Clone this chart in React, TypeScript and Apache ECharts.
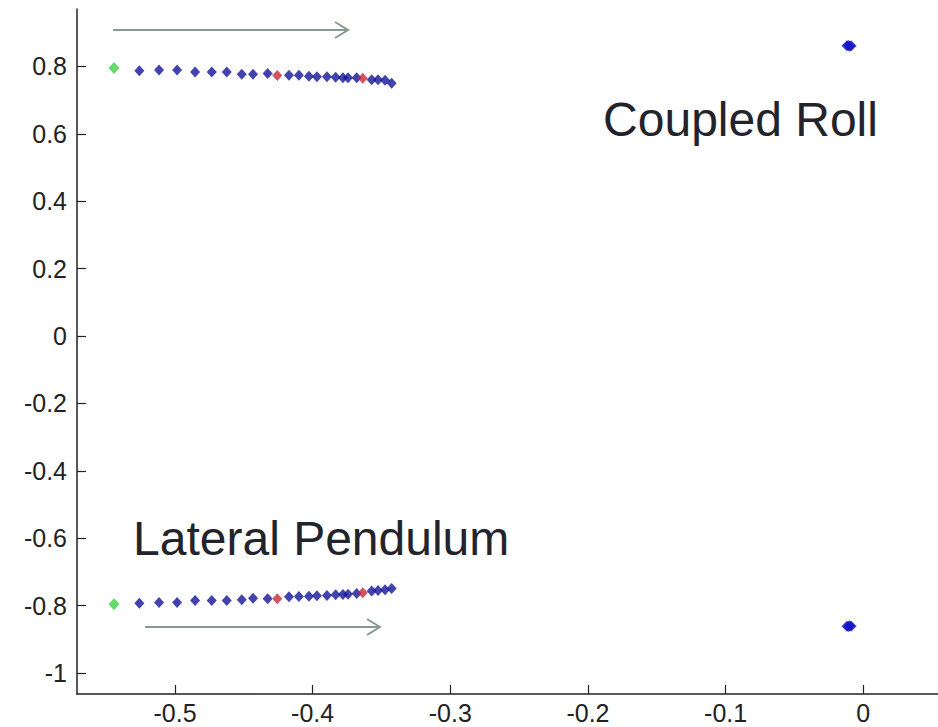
import React, { useEffect, useRef } from "react";
import * as echarts from "echarts";

// Root-locus style sweep: real parts shared by the conjugate pair
const realPart = [
  -0.5443, -0.5259, -0.5116, -0.4985, -0.4854, -0.4733, -0.4624, -0.4515, -0.4433, -0.4327,
  -0.4257, -0.4172, -0.41, -0.4027, -0.3969, -0.3896, -0.3833, -0.378, -0.3743, -0.368,
  -0.3636, -0.3571, -0.3525, -0.3474, -0.3426,
];
const imagUpper = [
  0.795, 0.787, 0.789, 0.789, 0.783, 0.783, 0.783, 0.777, 0.777, 0.779,
  0.773, 0.774, 0.774, 0.771, 0.769, 0.769, 0.768, 0.766, 0.766, 0.766,
  0.765, 0.76, 0.76, 0.759, 0.75,
];
const imagLower = [
  -0.796, -0.793, -0.791, -0.791, -0.785, -0.785, -0.785, -0.783, -0.778, -0.78,
  -0.78, -0.774, -0.773, -0.772, -0.771, -0.77, -0.768, -0.767, -0.766, -0.764,
  -0.762, -0.757, -0.755, -0.753, -0.749,
];
const startIndex = 0;
const highlightedIndices = [10, 20];

// Coupled roll mode (nearly stationary cluster)
const rollReal = [-0.0118, -0.0108, -0.0098, -0.0088];
const rollImagUpper = [0.861, 0.862, 0.86, 0.861];
const rollImagLower = [-0.861, -0.862, -0.86, -0.861];

const xTicks = [-0.5, -0.4, -0.3, -0.2, -0.1, 0];
const yTicks = [-1, -0.8, -0.6, -0.4, -0.2, 0, 0.2, 0.4, 0.6, 0.8];

const annotations = [
  { text: "Coupled Roll", x: -0.189, y: 0.641 },
  { text: "Lateral Pendulum", x: -0.5305, y: -0.602 },
];
const arrows = [
  { x1: -0.545, x2: -0.3743, y: 0.908 },
  { x1: -0.5217, x2: -0.3511, y: -0.8635 },
];

const FONT = "'Liberation Sans', Arial, Helvetica, sans-serif";

export default function App() {
  const ref = useRef<HTMLDivElement>(null);

  useEffect(() => {
    if (!ref.current) return;
    const chart = echarts.init(ref.current, undefined, { renderer: "svg" });

    const pairs = (ys: number[]) => realPart.map((x, i) => [x, ys[i]]);
    const up = pairs(imagUpper);
    const lo = pairs(imagLower);
    const sweep = [...up, ...lo].filter((_, k) => {
      const i = k % realPart.length;
      return i !== startIndex && !highlightedIndices.includes(i);
    });
    const starts = [up[startIndex], lo[startIndex]];
    const highs = highlightedIndices.flatMap((i) => [up[i], lo[i]]);
    const roll = [
      ...rollReal.map((x, i) => [x, rollImagUpper[i]]),
      ...rollReal.map((x, i) => [x, rollImagLower[i]]),
    ];

    const axisCommon = {
      axisLine: { show: true, onZero: false, lineStyle: { color: "#222", width: 1.5 } },
      splitLine: { show: false },
    };

    chart.setOption({
      animation: false,
      backgroundColor: "#ffffff",
      grid: { left: 77, right: 0, top: 9, bottom: 33, containLabel: false },
      xAxis: {
        type: "value",
        min: -0.5712,
        max: 0.0543,
        ...axisCommon,
        axisTick: { show: true, inside: true, length: 9, customValues: xTicks, lineStyle: { color: "#222", width: 1.2 } },
        axisLabel: {
          customValues: xTicks,
          color: "#222",
          fontSize: 25,
          fontFamily: FONT,
          margin: 6,
          formatter: (v: number) => String(Math.round(v * 10) / 10),
        },
      },
      yAxis: {
        type: "value",
        min: -1.0623,
        max: 0.9703,
        ...axisCommon,
        axisTick: { show: true, inside: true, length: 9, customValues: yTicks, lineStyle: { color: "#222", width: 1.2 } },
        axisLabel: {
          customValues: yTicks,
          color: "#222",
          fontSize: 25,
          fontFamily: FONT,
          margin: 10,
          formatter: (v: number) => String(Math.round(v * 10) / 10),
        },
      },
      series: [
        {
          name: "Sweep",
          type: "scatter",
          symbol: "diamond",
          symbolSize: [10, 11],
          itemStyle: { color: "#14149a" },
          data: sweep,
        },
        {
          name: "Start",
          type: "scatter",
          symbol: "diamond",
          symbolSize: [11, 12],
          itemStyle: { color: "#3fcf45" },
          data: starts,
        },
        {
          name: "Step",
          type: "scatter",
          symbol: "diamond",
          symbolSize: [10, 11],
          itemStyle: { color: "#c8283a" },
          data: highs,
        },
        {
          name: "Coupled Roll",
          type: "scatter",
          symbol: "diamond",
          symbolSize: [11, 11],
          itemStyle: { color: "#1414c8" },
          data: roll,
        },
      ],
    });

    const px = (x: number, y: number) => chart.convertToPixel({ gridIndex: 0 }, [x, y]) as number[];
    const graphic: any[] = [];
    arrows.forEach((a) => {
      const p1 = px(a.x1, a.y);
      const p2 = px(a.x2, a.y);
      graphic.push({
        type: "line",
        shape: { x1: p1[0], y1: p1[1], x2: p2[0], y2: p2[1] },
        style: { stroke: "#879990", lineWidth: 2 },
      });
      graphic.push({
        type: "polyline",
        shape: { points: [[p2[0] - 13, p2[1] - 8], [p2[0], p2[1]], [p2[0] - 13, p2[1] + 8]] },
        style: { stroke: "#879990", lineWidth: 2, fill: "none" },
      });
    });
    annotations.forEach((t) => {
      const p = px(t.x, t.y);
      graphic.push({
        type: "text",
        x: p[0],
        y: p[1],
        style: {
          text: t.text,
          fill: "#23232b",
          font: `48px ${FONT}`,
          textAlign: "left",
          textVerticalAlign: "middle",
        },
      });
    });
    chart.setOption({ graphic });

    return () => chart.dispose();
  }, []);

  return (
    <div
      ref={ref}
      style={{ position: "fixed", left: 0, top: 0, width: 938, height: 727, background: "#fff" }}
    />
  );
}
